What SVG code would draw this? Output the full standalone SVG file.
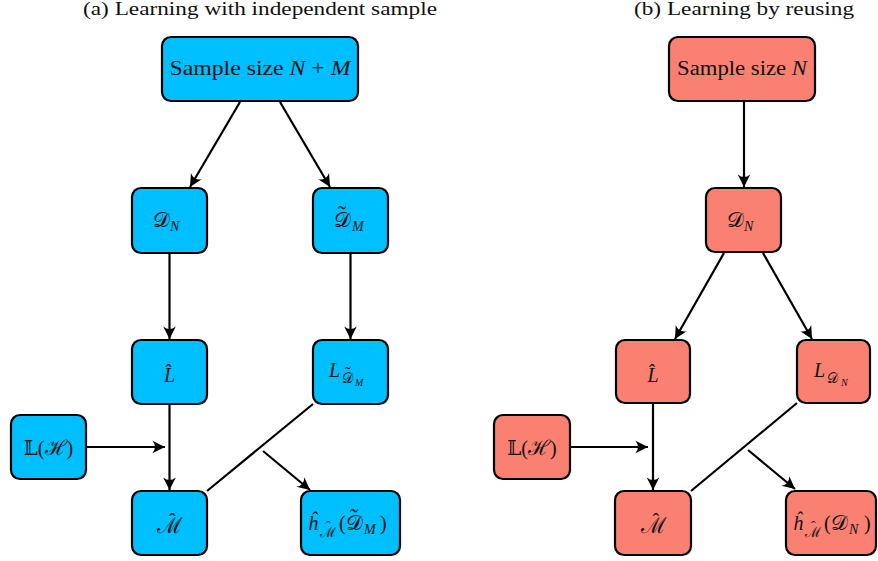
<svg xmlns="http://www.w3.org/2000/svg" width="878" height="561" viewBox="0 0 878 561">
<defs>
<style>
.box{stroke:#000;stroke-width:2.2}
.a{fill:#00BFFF}
.b{fill:#FA8072}
text{font-family:"Liberation Serif","DejaVu Serif",serif;fill:#111;font-size:20px}
.ttl{font-size:18px;text-anchor:middle}
.m{text-anchor:middle}
.i{font-style:italic}
.sc{font-size:21px}
.s{font-size:14px}
.ss{font-size:10px}
.c{stroke:#000;stroke-width:2.2;fill:none}
</style>
<marker id="ar" markerUnits="userSpaceOnUse" markerWidth="16" markerHeight="16" viewBox="-12 -7 14 14" refX="0" refY="0" orient="auto">
<path d="M0,0 L-11,-5.5 Q-6.5,0 -11,5.5 Z" fill="#000"/>
</marker>
</defs>
<text class="ttl" x="260" y="15" textLength="354" lengthAdjust="spacingAndGlyphs">(a) Learning with independent sample</text>
<text class="ttl" x="744" y="15" textLength="220" lengthAdjust="spacingAndGlyphs">(b) Learning by reusing</text>

<g id="connectors">
<line class="c" x1="240" y1="102" x2="190" y2="187" marker-end="url(#ar)"/>
<line class="c" x1="280" y1="102" x2="330" y2="187" marker-end="url(#ar)"/>
<line class="c" x1="169.5" y1="253" x2="169.5" y2="339" marker-end="url(#ar)"/>
<line class="c" x1="350.5" y1="253" x2="350.5" y2="339" marker-end="url(#ar)"/>
<line class="c" x1="169.5" y1="404" x2="169.5" y2="490" marker-end="url(#ar)"/>
<line class="c" x1="86" y1="447" x2="165" y2="447" marker-end="url(#ar)"/>
<line class="c" x1="207" y1="491" x2="313" y2="404"/>
<line class="c" x1="263" y1="451" x2="310" y2="490" marker-end="url(#ar)"/>

<line class="c" x1="744" y1="101" x2="744" y2="187" marker-end="url(#ar)"/>
<line class="c" x1="724" y1="253" x2="675" y2="339" marker-end="url(#ar)"/>
<line class="c" x1="763" y1="253" x2="812" y2="339" marker-end="url(#ar)"/>
<line class="c" x1="653" y1="403" x2="653" y2="490" marker-end="url(#ar)"/>
<line class="c" x1="570" y1="447" x2="648" y2="447" marker-end="url(#ar)"/>
<line class="c" x1="691" y1="491" x2="797" y2="403"/>
<line class="c" x1="748" y1="450" x2="795" y2="489" marker-end="url(#ar)"/>
</g>

<g id="a-sample">
<rect class="box a" x="162" y="37" width="196" height="64" rx="9"/>
<text class="m" x="260" y="75" textLength="181" lengthAdjust="spacingAndGlyphs">Sample size <tspan class="i">N</tspan> + <tspan class="i">M</tspan></text>
</g>
<g id="a-DN">
<rect class="box a" x="132" y="188" width="75" height="65" rx="9"/>
<text><tspan class="sc" x="153" y="227">𝒟</tspan><tspan class="i s" x="170" y="231">N</tspan></text>
</g>
<g id="a-DM">
<rect class="box a" x="313" y="188" width="75" height="65" rx="9"/>
<text><tspan class="sc" x="334" y="227">𝒟</tspan><tspan x="338" y="222" font-size="24">˜</tspan><tspan class="i s" x="352" y="231">M</tspan></text>
</g>
<g id="a-Lhat">
<rect class="box a" x="132" y="340" width="75" height="64" rx="9"/>
<text class="i m" x="169.5" y="382">L̂</text>
</g>
<g id="a-LDM">
<rect class="box a" x="313" y="340" width="75" height="64" rx="9"/>
<text><tspan class="i" x="329" y="377">L</tspan><tspan class="s" x="342" y="383">𝒟</tspan><tspan x="345" y="378" font-size="17">˜</tspan><tspan class="i ss" x="355" y="386">M</tspan></text>
</g>
<g id="a-LH">
<rect class="box a" x="11" y="415" width="75" height="64" rx="9"/>
<text class="m" x="48.5" y="455">𝕃(<tspan class="sc">ℋ</tspan>)</text>
</g>
<g id="a-Mhat">
<rect class="box a" x="132" y="491" width="75" height="64" rx="9"/>
<text><tspan x="157" y="533" font-size="22">ℳ</tspan><tspan x="169" y="528">ˆ</tspan></text>
</g>
<g id="a-h">
<rect class="box a" x="301" y="491" width="99" height="64" rx="9"/>
<text><tspan class="i" x="308" y="530">ĥ</tspan><tspan class="s" x="320" y="537">ℳ</tspan><tspan x="326" y="531" font-size="14">ˆ</tspan><tspan x="339" y="530">(</tspan><tspan class="sc" x="346" y="530">𝒟</tspan><tspan x="350" y="525" font-size="24">˜</tspan><tspan class="i s" x="364" y="534">M</tspan><tspan x="380" y="530">)</tspan></text>
</g>

<g id="b-sample">
<rect class="box b" x="669" y="37" width="146" height="64" rx="9"/>
<text class="m" x="742" y="75" textLength="130" lengthAdjust="spacingAndGlyphs">Sample size <tspan class="i">N</tspan></text>
</g>
<g id="b-DN">
<rect class="box b" x="706" y="188" width="75" height="64" rx="9"/>
<text><tspan class="sc" x="727" y="227">𝒟</tspan><tspan class="i s" x="744" y="231">N</tspan></text>
</g>
<g id="b-Lhat">
<rect class="box b" x="616" y="340" width="74" height="63" rx="9"/>
<text class="i m" x="653" y="382">L̂</text>
</g>
<g id="b-LDN">
<rect class="box b" x="797" y="340" width="73" height="63" rx="9"/>
<text><tspan class="i" x="814" y="377">L</tspan><tspan class="s" x="827" y="383">𝒟</tspan><tspan class="i ss" x="841" y="386">N</tspan></text>
</g>
<g id="b-LH">
<rect class="box b" x="494" y="415" width="76" height="64" rx="9"/>
<text class="m" x="532" y="455">𝕃(<tspan class="sc">ℋ</tspan>)</text>
</g>
<g id="b-Mhat">
<rect class="box b" x="615" y="491" width="76" height="64" rx="9"/>
<text><tspan x="640.5" y="533" font-size="22">ℳ</tspan><tspan x="652.5" y="528">ˆ</tspan></text>
</g>
<g id="b-h">
<rect class="box b" x="786" y="491" width="90" height="64" rx="9"/>
<text><tspan class="i" x="793" y="530">ĥ</tspan><tspan class="s" x="805" y="537">ℳ</tspan><tspan x="811" y="531" font-size="14">ˆ</tspan><tspan x="824" y="530">(</tspan><tspan class="sc" x="831" y="530">𝒟</tspan><tspan class="i s" x="849" y="534">N</tspan><tspan x="864" y="530">)</tspan></text>
</g>
</svg>
